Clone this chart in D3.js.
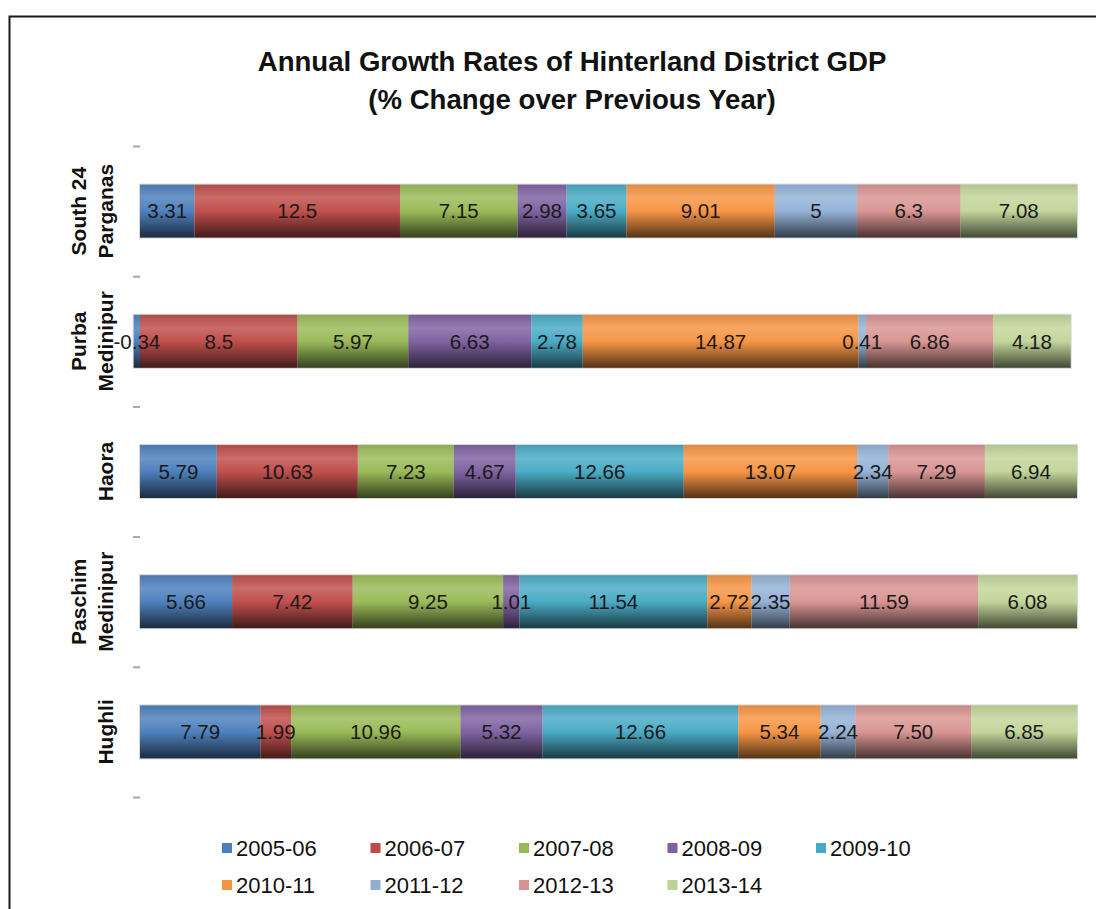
<!DOCTYPE html>
<html>
<head>
<meta charset="utf-8">
<script src="https://cdn.jsdelivr.net/npm/d3@7"></script>
<style>
  html, body { margin: 0; padding: 0; background: #fff; }
  svg { display: block; font-family: "Liberation Sans", Arial, sans-serif; }
</style>
</head>
<body>
<svg id="chart" width="1096" height="909"></svg>
<script>
// Districts, top to bottom
const categories = ["South 24 Parganas", "Purba Medinipur", "Haora", "Paschim Medinipur", "Hughli"];
const categoryLines = [["South 24", "Parganas"], ["Purba", "Medinipur"], ["Haora"], ["Paschim", "Medinipur"], ["Hughli"]];

// Financial years (series)
const years = ["2005-06", "2006-07", "2007-08", "2008-09", "2009-10", "2010-11", "2011-12", "2012-13", "2013-14"];

// Growth rates (%) per year, in the district order above
const g2005_06 = ["3.31", "-0.34", "5.79", "5.66", "7.79"];
const g2006_07 = ["12.5", "8.5", "10.63", "7.42", "1.99"];
const g2007_08 = ["7.15", "5.97", "7.23", "9.25", "10.96"];
const g2008_09 = ["2.98", "6.63", "4.67", "1.01", "5.32"];
const g2009_10 = ["3.65", "2.78", "12.66", "11.54", "12.66"];
const g2010_11 = ["9.01", "14.87", "13.07", "2.72", "5.34"];
const g2011_12 = ["5", "0.41", "2.34", "2.35", "2.24"];
const g2012_13 = ["6.3", "6.86", "7.29", "11.59", "7.50"];
const g2013_14 = ["7.08", "4.18", "6.94", "6.08", "6.85"];

const seriesValues = [g2005_06, g2006_07, g2007_08, g2008_09, g2009_10, g2010_11, g2011_12, g2012_13, g2013_14];

const seriesColors = ["#4f81bd", "#c0504d", "#9bbb59", "#8064a2", "#4bacc6", "#f79646", "#95b3d7", "#d99694", "#c3d69b"];
const legendColors = ["#4a7ebb", "#be4b48", "#98b954", "#7d60a0", "#46aac5", "#f69240", "#94add5", "#d69391", "#bcd195"];

const titleLines = ["Annual Growth Rates of Hinterland District GDP", "(% Change over Previous Year)"];

const svg = d3.select("#chart");
const defs = svg.append("defs");

// Glossy vertical gradient for each series
seriesColors.forEach((c, i) => {
  const g = defs.append("linearGradient")
    .attr("id", "grad" + i)
    .attr("x1", 0).attr("y1", 0).attr("x2", 0).attr("y2", 1);
  const light = d3.interpolateRgb(c, "#ffffff");
  const dark = d3.interpolateRgb(c, "#000000");
  g.append("stop").attr("offset", "0%").attr("stop-color", dark(0.08));
  g.append("stop").attr("offset", "25%").attr("stop-color", light(0.16));
  g.append("stop").attr("offset", "50%").attr("stop-color", c);
  g.append("stop").attr("offset", "100%").attr("stop-color", dark(0.66));
});

// Chart frame
svg.append("rect")
  .attr("x", 9.5).attr("y", 16.5)
  .attr("width", 1200).attr("height", 1000)
  .attr("fill", "none")
  .attr("stroke", "#1a1a1a")
  .attr("stroke-width", 2);

// Title
svg.append("g").selectAll("text")
  .data(titleLines)
  .join("text")
  .attr("x", 572)
  .attr("y", (d, i) => 71 + i * 38)
  .attr("text-anchor", "middle")
  .attr("font-weight", "bold")
  .attr("font-size", 27.6)
  .attr("fill", "#111")
  .text(d => d);

// Rows of shares (100% stacked, based on absolute totals)
const rows = categories.map((cat, ci) => {
  const raw = seriesValues.map(s => +s[ci]);
  const total = d3.sum(raw, v => Math.abs(v));
  const row = { category: cat, index: ci };
  years.forEach((y, si) => { row[y] = raw[si] / total; });
  return row;
});

const stacked = d3.stack()
  .keys(years)
  .offset(d3.stackOffsetDiverging)(rows);

const x = d3.scaleLinear().domain([0, 1]).range([140, 1077]);
const y = d3.scaleBand()
  .domain(categories)
  .range([146, 797])
  .paddingInner(0.593)
  .paddingOuter(0.2965);

// Tick marks at category boundaries
const tickScale = d3.scaleLinear().domain([0, categories.length]).range([146, 797]);
const tickAxis = svg.append("g")
  .attr("transform", "translate(140,0)")
  .call(d3.axisLeft(tickScale).ticks(categories.length).tickSize(7).tickFormat(""));
tickAxis.select(".domain").remove();
tickAxis.selectAll(".tick line").attr("stroke", "#a6a6a6").attr("stroke-width", 2);

// Faint outline behind each bar
svg.append("g").selectAll("rect")
  .data(rows)
  .join("rect")
  .attr("x", r => x(d3.min(stacked, s => s[r.index][0])) - 1)
  .attr("y", r => y(r.category) - 1)
  .attr("width", r => x(d3.max(stacked, s => s[r.index][1])) - x(d3.min(stacked, s => s[r.index][0])) + 2)
  .attr("height", y.bandwidth() + 2)
  .attr("fill", "#d9d9d9");

// Bar segments
const seriesG = svg.append("g").selectAll("g")
  .data(stacked)
  .join("g")
  .attr("fill", (d, i) => `url(#grad${i})`);

seriesG.selectAll("rect")
  .data(d => d)
  .join("rect")
  .attr("x", d => x(Math.min(d[0], d[1])))
  .attr("y", d => y(d.data.category))
  .attr("width", d => Math.abs(x(d[1]) - x(d[0])))
  .attr("height", y.bandwidth());

// Data labels
const labelG = svg.append("g")
  .attr("font-size", 20.5)
  .attr("fill", "#1a1a1a")
  .attr("text-anchor", "middle");

stacked.forEach((s, si) => {
  labelG.selectAll(null)
    .data(s)
    .join("text")
    .attr("x", d => (x(d[0]) + x(d[1])) / 2)
    .attr("y", d => y(d.data.category) + y.bandwidth() / 2)
    .attr("dy", "0.36em")
    .text(d => seriesValues[si][d.data.index]);
});

// Category labels (rotated)
const catG = svg.append("g").selectAll("g")
  .data(categories)
  .join("g")
  .attr("transform", c => `translate(105,${y(c) + y.bandwidth() / 2}) rotate(-90)`);

catG.each(function (c, i) {
  const lines = categoryLines[i];
  d3.select(this).selectAll("text")
    .data(lines)
    .join("text")
    .attr("x", 0)
    .attr("y", (d, li) => (li - (lines.length - 1)) * 27)
    .attr("dy", "0.36em")
    .attr("text-anchor", "middle")
    .attr("font-weight", "bold")
    .attr("font-size", 21)
    .attr("fill", "#111")
    .text(d => d);
});

// Legend
const legendCols = 5;
const legend = svg.append("g").selectAll("g")
  .data(years)
  .join("g")
  .attr("transform", (d, i) => `translate(${222 + (i % legendCols) * 148.5},${848 + Math.floor(i / legendCols) * 37})`);

legend.append("rect")
  .attr("x", 0).attr("y", -5)
  .attr("width", 10).attr("height", 10)
  .attr("fill", (d, i) => legendColors[i]);

legend.append("text")
  .attr("x", 14)
  .attr("y", 0)
  .attr("dy", "0.36em")
  .attr("font-size", 22)
  .attr("fill", "#111")
  .text(d => d);
</script>
</body>
</html>
